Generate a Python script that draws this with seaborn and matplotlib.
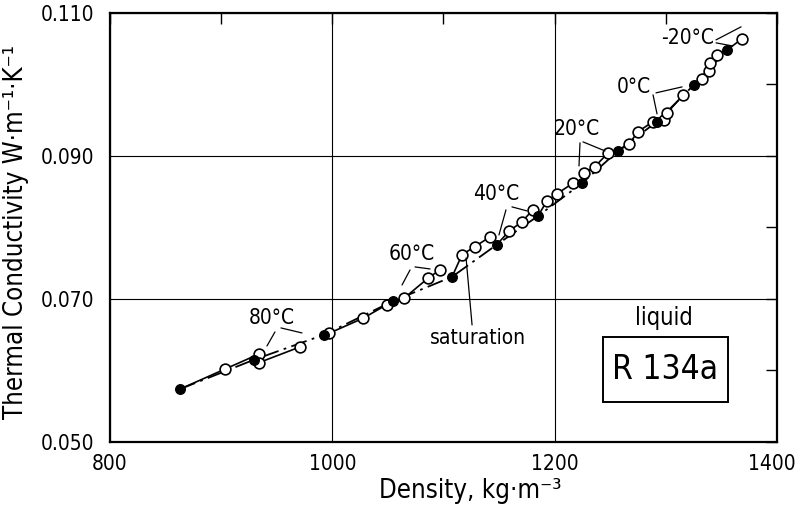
import matplotlib
matplotlib.use("Agg")
import matplotlib.pyplot as plt
import seaborn as sns
import pandas as pd
from matplotlib.ticker import MultipleLocator, FormatStrFormatter
from matplotlib.patches import Rectangle
from matplotlib.transforms import ScaledTranslation

# ---------------- data ----------------
sat_density = [863, 929.5, 992.5, 1054.6, 1107.7, 1148, 1185, 1224.7, 1257, 1292, 1325, 1355]
sat_k = [0.0574, 0.0615, 0.0650, 0.0697, 0.0731, 0.0776, 0.0816, 0.0862, 0.0907, 0.0948, 0.0999, 0.1048]

open_density = [903.5, 934, 934, 971, 997, 1027.6, 1049, 1064.5, 1086, 1097,
                1116.7, 1128, 1142, 1159, 1170.6, 1180.5, 1193, 1202, 1216.5,
                1226.4, 1236, 1248, 1267, 1275, 1288.5, 1298, 1301, 1315.5,
                1332.6, 1339, 1339.8, 1346, 1368.5]
open_k = [0.0602, 0.0623, 0.0611, 0.0633, 0.0652, 0.0673, 0.0692, 0.0701, 0.0729, 0.0741,
          0.0762, 0.0773, 0.0787, 0.0795, 0.0808, 0.0825, 0.0837, 0.0847, 0.0862,
          0.0876, 0.0885, 0.0904, 0.0917, 0.0934, 0.0948, 0.0950, 0.0960, 0.0985,
          0.1008, 0.1019, 0.1030, 0.1041, 0.1064]
open_group = [0, 0, 1, 1, 2, 2, 2, 3, 3, 3,
              4, 4, 4, 5, 5, 5, 6, 6, 6,
              7, 7, 7, 8, 8, 8, 9, 9, 9,
              10, 10, 10, 10, 11]

x_ticks = [800, 1000, 1200, 1400]
y_ticks = [0.050, 0.070, 0.090, 0.110]

temp_labels = ["80°C", "60°C", "40°C", "20°C", "0°C", "-20°C"]
temp_label_x = [945.7, 1071.7, 1147.2, 1220.1, 1271.4, 1320.0]
temp_label_y = [0.06735, 0.07630, 0.08470, 0.09379, 0.09966, 0.10652]
# leader lines: (x0, y0, x1, y1)
leaders = [
    (948.4, 0.06539, 941.2, 0.06343), (953.8, 0.06595, 972.7, 0.06525),
    (1069.9, 0.07406, 1062.7, 0.07196), (1074.4, 0.07448, 1087.9, 0.07420),
    (1156.2, 0.08246, 1149.9, 0.07896), (1161.6, 0.08288, 1175.1, 0.08232),
    (1222.8, 0.09183, 1221.9, 0.08861), (1225.5, 0.09197, 1245.3, 0.09071),
    (1288.5, 0.09855, 1292.1, 0.09589), (1291.2, 0.09883, 1314.6, 0.09966),
    (1345.2, 0.10624, 1367.7, 0.10806), (1345.2, 0.10582, 1359.6, 0.10540),
    (1125.7, 0.06637, 1120.3, 0.07574),
]

# ---------------- build tables ----------------
rows = []
for g, (d0, k0) in enumerate(zip(sat_density, sat_k)):
    rows.append((g, d0, k0))
    for d, k, gg in zip(open_density, open_k, open_group):
        if gg == g:
            rows.append((g, d, k))
iso_df = pd.DataFrame(rows, columns=["iso", "density", "k"])
sat_df = pd.DataFrame({"density": sat_density, "k": sat_k})
open_df = pd.DataFrame({"density": open_density, "k": open_k})

# ---------------- style ----------------
sns.set_theme(style="white")
plt.rcParams["font.family"] = ["DejaVu Sans"]
plt.rcParams["font.stretch"] = "condensed"
plt.rcParams["mathtext.fontset"] = "dejavusans"

fig = plt.figure(figsize=(7.96, 5.17), dpi=100)
ax = fig.add_axes([0.1382, 0.1451, 0.8379, 0.8298])

# isotherms (solid)
sns.lineplot(data=iso_df, x="density", y="k", units="iso", estimator=None, sort=False,
             color="black", linewidth=1.2, ax=ax, legend=False)
# saturation (dash-dot)
sns.lineplot(data=sat_df, x="density", y="k", sort=False, color="black",
             linewidth=1.3, ax=ax, legend=False)
ax.lines[-1].set_linestyle((0, (9, 3, 1.5, 3)))

sns.scatterplot(data=open_df, x="density", y="k", marker="o", s=60,
                facecolor="white", edgecolor="black", linewidth=1.2, zorder=3, ax=ax)
sns.scatterplot(data=sat_df, x="density", y="k", marker="o", s=50,
                color="black", edgecolor="black", linewidth=0.8, zorder=4, ax=ax)

# annotations
for t, x, y in zip(temp_labels, temp_label_x, temp_label_y):
    ax.text(x, y, t, ha="center", va="center", fontsize=15, color="black", zorder=5)
for x0, y0, x1, y1 in leaders:
    ax.plot([x0, x1], [y0, y1], color="black", lw=0.9, zorder=5)
ax.text(1131, 0.06455, "saturation", ha="center", va="center", fontsize=15, color="black")
ax.text(1298.4, 0.06735, "liquid", ha="center", va="center", fontsize=17, color="black")
ax.add_patch(Rectangle((0.7391, 0.0932), 0.1874, 0.1515, transform=ax.transAxes,
                       facecolor="white", edgecolor="black", linewidth=1.4, zorder=5))
ax.text(0.8328, 0.1690, "R 134a", transform=ax.transAxes, ha="center", va="center",
        fontsize=24, color="black", zorder=6)

# axes
ax.set_xlim(800, 1400)
ax.set_ylim(0.050, 0.110)
ax.set_xticks(x_ticks)
ax.set_yticks(y_ticks)
ax.xaxis.set_minor_locator(MultipleLocator(100))
ax.yaxis.set_minor_locator(MultipleLocator(0.010))
ax.yaxis.set_major_formatter(FormatStrFormatter("%.3f"))
ax.tick_params(which="both", direction="in", top=True, right=True, length=8, width=1,
               color="black", labelsize=15, labelcolor="black")
ax.tick_params(axis="x", pad=9)
ax.tick_params(axis="y", pad=11)
ax.grid(True, which="major", color="black", linewidth=0.8)
ax.set_axisbelow(True)
for s in ax.spines.values():
    s.set_color("black")
    s.set_linewidth(1.6)

# keep the last x tick label inside the canvas
last = ax.get_xticklabels()[-1]
last.set_transform(last.get_transform() + ScaledTranslation(-4 / 72, 0, fig.dpi_scale_trans))

ax.set_xlabel("Density, kg·m⁻³", fontsize=18.5, color="black")
ax.xaxis.set_label_coords(0.54, -0.085)
ax.set_ylabel("Thermal Conductivity W·m⁻¹·K⁻¹", fontsize=18.5, color="black")
ax.yaxis.set_label_coords(-0.121, 0.49)

fig.savefig("out.png", dpi=100)
